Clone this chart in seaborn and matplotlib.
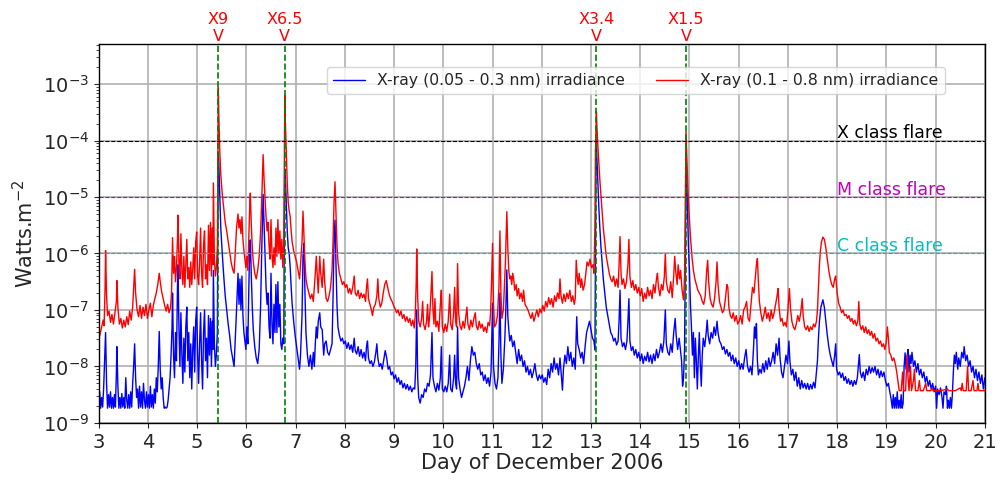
import numpy as np
import pandas as pd
import matplotlib
matplotlib.use("Agg")
import matplotlib.pyplot as plt
import matplotlib.transforms as mtransforms
import seaborn as sns

# ---- data: (day of December 2006, log10 irradiance W m^-2) ----
red_pts = [
(3.00,-7.52),(3.03,-7.42),(3.06,-7.30),(3.09,-7.18),(3.11,-7.28),(3.13,-6.60),(3.14,-5.95),(3.16,-6.75),(3.18,-7.10),(3.21,-7.02),
(3.24,-7.22),(3.27,-7.08),(3.30,-7.25),(3.33,-7.05),(3.36,-6.85),(3.37,-6.48),(3.39,-6.95),(3.42,-7.25),(3.45,-7.15),(3.48,-7.32),
(3.51,-7.18),(3.54,-7.30),(3.57,-7.12),(3.60,-7.26),(3.63,-7.02),(3.66,-7.18),(3.69,-6.95),(3.72,-6.45),(3.73,-6.28),(3.75,-6.70),
(3.78,-7.00),(3.81,-7.12),(3.84,-6.92),(3.87,-7.15),(3.90,-6.95),(3.93,-7.10),(3.96,-6.90),(3.99,-7.15),(4.02,-7.00),(4.05,-6.88),
(4.08,-7.12),(4.11,-6.92),(4.14,-6.80),(4.17,-6.70),(4.20,-6.55),(4.23,-6.35),(4.25,-6.50),(4.28,-6.68),(4.31,-6.80),(4.34,-6.92),
(4.37,-7.02),(4.40,-6.90),(4.43,-7.05),(4.46,-6.95),(4.48,-6.70),(4.50,-5.72),(4.52,-6.35),(4.54,-6.05),(4.56,-6.50),(4.58,-6.25),
(4.60,-5.75),(4.61,-5.32),(4.63,-6.15),(4.65,-6.45),(4.67,-5.65),(4.69,-6.30),(4.71,-6.55),(4.73,-6.05),(4.75,-6.60),(4.77,-6.20),
(4.79,-5.75),(4.81,-6.45),(4.83,-6.25),(4.85,-6.60),(4.87,-6.15),(4.89,-6.55),(4.91,-6.30),(4.93,-5.90),(4.95,-6.45),(4.97,-5.80),
(4.99,-5.62),(5.01,-6.40),(5.03,-6.55),(5.05,-6.15),(5.07,-5.55),(5.09,-6.35),(5.11,-6.60),(5.13,-5.85),(5.15,-5.60),(5.17,-6.45),
(5.19,-6.20),(5.21,-6.55),(5.23,-5.50),(5.25,-6.30),(5.27,-5.45),(5.29,-6.40),(5.31,-5.55),(5.32,-6.20),(5.33,-4.75),(5.35,-6.10),
(5.37,-6.40),(5.39,-6.25),(5.41,-5.90),(5.42,-4.50),(5.43,-3.06),(5.44,-3.55),(5.46,-4.20),(5.48,-4.60),(5.51,-4.95),(5.54,-5.20),
(5.57,-5.45),(5.60,-5.60),(5.63,-5.78),(5.66,-5.95),(5.69,-6.15),(5.72,-6.28),(5.75,-6.35),(5.77,-6.05),(5.80,-5.55),(5.83,-5.30),
(5.85,-5.55),(5.87,-5.40),(5.89,-5.65),(5.91,-5.35),(5.93,-5.75),(5.95,-5.95),(5.97,-6.10),(5.99,-6.25),(6.01,-6.05),(6.03,-6.30),
(6.05,-5.70),(6.07,-5.10),(6.08,-4.93),(6.10,-5.50),(6.12,-5.90),(6.14,-6.15),(6.17,-6.35),(6.20,-6.45),(6.23,-6.30),(6.26,-6.05),
(6.29,-5.60),(6.31,-5.10),(6.34,-4.25),(6.36,-4.70),(6.38,-5.05),(6.40,-5.35),(6.42,-5.60),(6.44,-5.45),(6.46,-5.85),(6.48,-6.10),
(6.50,-5.40),(6.52,-6.00),(6.54,-6.25),(6.56,-5.90),(6.58,-6.20),(6.60,-5.55),(6.62,-6.05),(6.64,-5.40),(6.66,-6.00),(6.68,-5.60),
(6.70,-6.10),(6.72,-5.75),(6.74,-6.25),(6.76,-5.80),(6.77,-4.50),(6.78,-3.20),(6.79,-3.60),(6.81,-4.20),(6.83,-4.75),(6.85,-5.10),
(6.87,-5.25),(6.89,-5.35),(6.91,-5.60),(6.93,-5.80),(6.96,-5.95),(6.99,-6.05),(7.02,-6.15),(7.05,-6.30),(7.08,-6.45),(7.10,-6.20),
(7.13,-5.80),(7.15,-5.25),(7.17,-5.70),(7.19,-6.15),(7.21,-6.45),(7.24,-6.60),(7.27,-6.70),(7.30,-6.80),(7.33,-6.72),(7.36,-6.85),
(7.38,-6.60),(7.40,-6.35),(7.42,-6.05),(7.44,-6.40),(7.46,-6.70),(7.49,-6.05),(7.51,-6.35),(7.54,-6.60),(7.57,-6.10),(7.59,-6.50),
(7.62,-6.80),(7.65,-6.85),(7.68,-6.75),(7.71,-6.60),(7.74,-6.30),(7.76,-5.80),(7.78,-5.10),(7.80,-4.73),(7.82,-5.30),(7.84,-5.85),
(7.86,-6.15),(7.89,-6.35),(7.92,-6.45),(7.95,-6.55),(7.98,-6.50),(8.01,-6.60),(8.04,-6.55),(8.07,-6.70),(8.10,-6.62),(8.13,-6.72),
(8.16,-6.60),(8.19,-6.40),(8.21,-6.70),(8.24,-6.75),(8.27,-6.65),(8.30,-6.80),(8.33,-6.70),(8.36,-6.78),(8.39,-6.72),(8.42,-6.85),
(8.44,-6.60),(8.46,-6.45),(8.48,-6.80),(8.51,-6.90),(8.54,-7.00),(8.56,-7.10),(8.59,-6.95),(8.62,-6.90),(8.65,-6.75),(8.67,-6.45),
(8.69,-6.80),(8.72,-6.95),(8.75,-6.88),(8.78,-6.70),(8.81,-6.55),(8.84,-6.48),(8.87,-6.60),(8.90,-6.72),(8.93,-6.80),(8.96,-6.85),
(8.99,-6.92),(9.02,-6.98),(9.05,-7.05),(9.08,-7.00),(9.11,-7.10),(9.14,-7.02),(9.17,-7.15),(9.20,-7.08),(9.23,-7.20),(9.26,-7.12),
(9.29,-7.22),(9.32,-7.15),(9.35,-7.28),(9.38,-7.18),(9.41,-7.32),(9.43,-7.10),(9.45,-6.50),(9.46,-5.92),(9.48,-6.80),(9.50,-7.20),
(9.53,-7.30),(9.56,-7.15),(9.58,-6.85),(9.60,-7.25),(9.63,-7.35),(9.66,-7.20),(9.68,-6.90),(9.70,-7.30),(9.72,-7.15),(9.75,-6.70),
(9.77,-6.32),(9.79,-7.00),(9.81,-7.25),(9.83,-6.80),(9.85,-7.30),(9.88,-7.20),(9.91,-7.38),(9.94,-6.90),(9.96,-6.65),(9.98,-7.30),
(10.01,-7.40),(10.04,-7.25),(10.07,-7.38),(10.10,-7.20),(10.13,-6.72),(10.15,-7.25),(10.18,-7.35),(10.21,-7.05),(10.23,-6.60),(10.25,-7.20),
(10.27,-7.30),(10.29,-6.18),(10.31,-7.05),(10.34,-7.28),(10.37,-7.35),(10.40,-7.20),(10.43,-7.32),(10.46,-7.10),(10.48,-6.95),(10.50,-7.25),
(10.53,-7.35),(10.56,-7.18),(10.59,-7.30),(10.62,-7.15),(10.65,-7.05),(10.67,-7.28),(10.70,-7.35),(10.73,-7.20),(10.76,-7.32),(10.79,-7.25),
(10.82,-7.38),(10.85,-7.30),(10.88,-7.40),(10.91,-7.22),(10.94,-7.28),(10.96,-7.05),(10.98,-6.50),(11.00,-5.82),(11.02,-6.90),(11.04,-7.30),
(11.07,-7.25),(11.10,-7.10),(11.13,-6.60),(11.15,-5.60),(11.17,-6.70),(11.19,-7.15),(11.22,-7.00),(11.24,-6.60),(11.26,-6.20),(11.28,-5.60),
(11.29,-5.26),(11.31,-5.90),(11.33,-6.30),(11.35,-6.45),(11.37,-6.40),(11.39,-6.55),(11.41,-6.35),(11.43,-6.45),(11.45,-6.65),(11.48,-6.55),
(11.50,-6.75),(11.53,-6.62),(11.55,-6.80),(11.58,-6.70),(11.61,-6.85),(11.63,-6.65),(11.66,-6.90),(11.69,-6.95),(11.72,-7.00),(11.75,-7.08),
(11.78,-7.15),(11.81,-7.05),(11.84,-7.20),(11.87,-7.10),(11.90,-7.00),(11.93,-7.12),(11.96,-6.98),(11.99,-7.05),(12.02,-6.92),(12.05,-7.02),
(12.08,-6.85),(12.11,-6.95),(12.14,-6.78),(12.17,-6.90),(12.20,-6.80),(12.23,-6.95),(12.26,-6.75),(12.29,-6.85),(12.32,-6.70),(12.35,-6.80),
(12.37,-6.45),(12.39,-6.75),(12.42,-6.88),(12.45,-6.72),(12.48,-6.85),(12.51,-6.70),(12.54,-6.80),(12.57,-6.65),(12.60,-6.85),(12.63,-6.75),
(12.66,-6.90),(12.68,-6.80),(12.70,-6.12),(12.72,-6.40),(12.74,-6.55),(12.76,-6.35),(12.79,-6.60),(12.81,-6.45),(12.84,-6.65),(12.87,-6.55),
(12.90,-6.30),(12.92,-6.15),(12.95,-6.22),(12.98,-6.10),(13.01,-6.25),(13.04,-6.20),(13.06,-6.35),(13.08,-5.50),(13.09,-4.20),(13.11,-3.49),
(13.12,-3.75),(13.14,-4.10),(13.16,-4.40),(13.18,-4.70),(13.20,-4.95),(13.22,-5.20),(13.25,-5.55),(13.28,-5.80),(13.31,-6.05),(13.34,-6.20),
(13.37,-6.35),(13.40,-6.45),(13.43,-6.50),(13.46,-6.40),(13.49,-6.58),(13.52,-6.45),(13.55,-6.60),(13.57,-6.20),(13.59,-5.70),(13.61,-6.35),
(13.63,-6.55),(13.66,-6.45),(13.69,-6.62),(13.72,-6.50),(13.75,-6.20),(13.77,-5.75),(13.79,-6.40),(13.82,-6.60),(13.85,-6.48),(13.88,-6.65),
(13.91,-6.55),(13.94,-6.70),(13.97,-6.60),(14.00,-6.75),(14.03,-6.62),(14.06,-6.85),(14.09,-6.70),(14.12,-6.80),(14.15,-6.60),(14.18,-6.75),
(14.21,-6.65),(14.24,-6.80),(14.27,-6.55),(14.30,-6.70),(14.33,-6.45),(14.35,-6.35),(14.37,-6.60),(14.40,-6.75),(14.43,-6.55),(14.46,-6.65),
(14.49,-6.40),(14.51,-6.00),(14.53,-6.50),(14.56,-6.65),(14.59,-6.70),(14.62,-6.50),(14.65,-6.78),(14.68,-6.40),(14.70,-6.05),(14.72,-6.30),
(14.75,-6.55),(14.77,-6.20),(14.80,-6.45),(14.82,-6.30),(14.85,-6.65),(14.88,-6.82),(14.90,-6.40),(14.92,-4.80),(14.93,-3.84),(14.95,-4.40),
(14.97,-4.90),(14.99,-5.25),(15.02,-5.70),(15.05,-6.05),(15.08,-6.30),(15.11,-6.45),(15.14,-6.55),(15.17,-6.65),(15.20,-6.70),(15.23,-6.75),
(15.26,-6.85),(15.29,-6.90),(15.32,-6.75),(15.35,-6.30),(15.37,-6.12),(15.39,-6.50),(15.42,-6.80),(15.45,-6.90),(15.48,-6.95),(15.51,-6.80),
(15.54,-6.50),(15.56,-6.15),(15.58,-6.55),(15.61,-6.85),(15.64,-6.95),(15.67,-7.05),(15.70,-7.00),(15.73,-6.80),(15.76,-6.55),(15.78,-6.60),
(15.80,-6.95),(15.83,-7.10),(15.86,-7.15),(15.89,-7.05),(15.92,-7.20),(15.95,-7.10),(15.98,-7.25),(16.01,-7.20),(16.04,-7.10),(16.07,-7.25),
(16.10,-7.00),(16.13,-6.95),(16.16,-6.85),(16.19,-7.15),(16.22,-7.20),(16.25,-6.90),(16.28,-6.60),(16.31,-6.70),(16.34,-6.40),(16.36,-6.20),
(16.38,-6.09),(16.40,-6.50),(16.42,-6.85),(16.45,-7.05),(16.48,-7.20),(16.51,-7.10),(16.54,-6.95),(16.57,-7.15),(16.60,-7.05),(16.63,-7.20),
(16.66,-7.00),(16.69,-7.15),(16.72,-7.05),(16.75,-6.90),(16.78,-6.75),(16.80,-6.62),(16.82,-6.95),(16.85,-7.20),(16.88,-7.15),(16.91,-7.28),
(16.94,-7.22),(16.97,-7.30),(17.00,-7.00),(17.03,-6.62),(17.05,-6.95),(17.08,-7.20),(17.11,-7.30),(17.14,-7.35),(17.17,-7.25),(17.20,-7.10),
(17.23,-7.20),(17.26,-7.05),(17.29,-6.80),(17.31,-7.10),(17.34,-7.30),(17.37,-7.35),(17.40,-7.28),(17.43,-7.38),(17.46,-7.30),(17.49,-7.35),
(17.52,-7.25),(17.55,-7.30),(17.58,-7.20),(17.60,-7.00),(17.62,-6.60),(17.64,-6.20),(17.66,-5.95),(17.68,-5.80),(17.71,-5.71),(17.74,-5.75),
(17.77,-5.90),(17.80,-6.10),(17.83,-6.30),(17.86,-6.45),(17.89,-6.55),(17.92,-6.60),(17.95,-6.45),(17.97,-6.40),(18.00,-6.70),(18.03,-6.88),
(18.06,-6.95),(18.09,-7.05),(18.12,-7.00),(18.15,-7.10),(18.18,-7.08),(18.21,-7.15),(18.24,-7.10),(18.27,-7.20),(18.30,-7.15),(18.33,-7.25),
(18.36,-7.18),(18.39,-7.28),(18.42,-7.20),(18.44,-6.85),(18.46,-7.25),(18.49,-7.35),(18.52,-7.28),(18.55,-7.40),(18.58,-7.30),(18.61,-7.42),
(18.64,-7.35),(18.67,-7.45),(18.70,-7.38),(18.73,-7.50),(18.76,-7.42),(18.79,-7.55),(18.82,-7.50),(18.85,-7.60),(18.88,-7.55),(18.91,-7.65),
(18.94,-7.60),(18.97,-7.70),(19.00,-7.55),(19.02,-7.30),(19.04,-7.50),(19.06,-7.75),(19.09,-7.80),(19.12,-7.90),(19.15,-7.85),(19.18,-7.95),
(19.21,-8.10),(19.24,-8.30),(19.26,-8.43),(19.30,-8.43),(19.33,-8.10),(19.35,-8.43),(19.39,-8.43),(19.42,-7.80),(19.44,-8.20),(19.46,-8.43),
(19.49,-8.00),(19.51,-8.43),(19.55,-8.25),(19.57,-8.05),(19.59,-8.43),(19.64,-8.43),(19.67,-8.25),(19.69,-8.43),(19.75,-8.43),(19.80,-8.30),
(19.82,-8.43),(19.90,-8.43),(19.93,-8.38),(19.95,-8.43),(20.10,-8.43),(20.24,-8.40),(20.26,-8.43),(20.40,-8.43),(20.50,-8.38),(20.52,-8.43),
(20.54,-8.30),(20.56,-8.43),(20.62,-8.43),(20.65,-8.00),(20.67,-8.43),(20.72,-8.43),(20.76,-8.25),(20.78,-8.43),(20.84,-8.43),(20.86,-8.30),
(20.88,-8.43),(21.00,-8.43),
]

blue_pts = [
(3.00,-8.70),(3.02,-8.45),(3.04,-8.74),(3.06,-8.55),(3.08,-8.72),(3.10,-8.40),(3.12,-7.90),(3.14,-7.40),(3.16,-8.30),(3.18,-8.74),
(3.20,-8.50),(3.22,-8.72),(3.24,-8.45),(3.26,-8.74),(3.28,-8.55),(3.30,-8.74),(3.32,-8.50),(3.34,-8.72),(3.36,-8.10),(3.37,-7.65),
(3.39,-8.35),(3.41,-8.74),(3.43,-8.55),(3.45,-8.74),(3.47,-8.48),(3.49,-8.72),(3.51,-8.55),(3.53,-8.74),(3.55,-8.20),(3.57,-8.60),
(3.59,-8.74),(3.61,-8.50),(3.63,-8.74),(3.65,-8.45),(3.67,-8.72),(3.69,-8.30),(3.71,-8.00),(3.73,-7.60),(3.75,-8.20),(3.77,-8.55),
(3.79,-8.40),(3.81,-8.74),(3.83,-8.35),(3.85,-8.72),(3.87,-8.45),(3.89,-8.74),(3.91,-8.30),(3.93,-8.60),(3.95,-8.74),(3.97,-8.45),
(3.99,-8.72),(4.01,-8.50),(4.03,-8.74),(4.05,-8.35),(4.07,-8.72),(4.09,-8.50),(4.11,-8.74),(4.13,-8.40),(4.15,-8.65),(4.17,-8.20),
(4.19,-8.45),(4.21,-8.00),(4.23,-7.38),(4.25,-8.05),(4.27,-8.40),(4.29,-8.20),(4.31,-8.55),(4.33,-8.74),(4.35,-8.72),(4.37,-8.74),
(4.39,-8.72),(4.41,-8.60),(4.43,-8.40),(4.45,-8.20),(4.47,-7.80),(4.49,-7.30),(4.50,-6.70),(4.52,-7.80),(4.54,-8.20),(4.56,-7.40),
(4.58,-7.90),(4.60,-6.60),(4.61,-6.20),(4.63,-7.30),(4.65,-8.00),(4.67,-7.05),(4.69,-7.80),(4.71,-8.30),(4.73,-7.50),(4.75,-8.10),
(4.77,-7.30),(4.79,-6.95),(4.81,-7.90),(4.83,-7.40),(4.85,-8.20),(4.87,-7.60),(4.89,-8.40),(4.91,-7.70),(4.93,-7.30),(4.95,-8.10),
(4.97,-7.20),(4.99,-6.95),(5.01,-7.80),(5.03,-8.30),(5.05,-7.60),(5.07,-7.05),(5.09,-7.90),(5.11,-8.40),(5.13,-7.40),(5.15,-7.00),
(5.17,-7.90),(5.19,-7.50),(5.21,-8.20),(5.23,-7.10),(5.25,-7.80),(5.27,-7.15),(5.29,-8.00),(5.31,-7.20),(5.32,-7.70),(5.33,-6.30),
(5.35,-7.60),(5.37,-8.00),(5.39,-7.80),(5.41,-7.40),(5.42,-5.50),(5.43,-4.20),(5.44,-4.40),(5.46,-5.00),(5.48,-5.55),(5.51,-6.00),
(5.54,-6.40),(5.57,-6.75),(5.60,-7.00),(5.63,-7.25),(5.66,-7.45),(5.69,-7.70),(5.72,-7.85),(5.75,-8.00),(5.77,-7.60),(5.80,-7.00),
(5.83,-6.35),(5.85,-6.90),(5.87,-6.45),(5.89,-7.00),(5.91,-6.40),(5.93,-7.10),(5.95,-7.40),(5.97,-7.55),(5.99,-7.70),(6.01,-7.30),
(6.03,-7.60),(6.05,-6.60),(6.07,-5.80),(6.08,-5.76),(6.10,-6.40),(6.12,-6.95),(6.14,-7.35),(6.17,-7.65),(6.20,-7.85),(6.23,-7.95),
(6.26,-7.70),(6.29,-6.90),(6.31,-6.00),(6.34,-4.95),(6.36,-5.50),(6.38,-6.10),(6.40,-6.60),(6.42,-6.90),(6.44,-6.70),(6.46,-7.30),
(6.48,-7.50),(6.50,-6.35),(6.52,-7.25),(6.54,-7.60),(6.56,-6.90),(6.58,-7.40),(6.60,-6.55),(6.62,-7.40),(6.64,-6.50),(6.66,-7.30),
(6.68,-6.90),(6.70,-7.60),(6.72,-7.70),(6.74,-7.50),(6.76,-7.60),(6.77,-5.50),(6.78,-4.50),(6.79,-4.60),(6.81,-5.10),(6.83,-5.60),
(6.85,-5.90),(6.87,-6.00),(6.89,-6.25),(6.91,-6.60),(6.93,-6.90),(6.96,-7.20),(6.99,-7.45),(7.02,-7.65),(7.05,-7.85),(7.08,-8.05),
(7.10,-7.80),(7.13,-7.10),(7.15,-6.05),(7.17,-5.82),(7.19,-6.70),(7.21,-7.40),(7.24,-7.80),(7.27,-8.00),(7.30,-7.80),(7.33,-8.05),
(7.36,-7.75),(7.38,-8.00),(7.40,-7.60),(7.42,-7.30),(7.44,-7.50),(7.46,-7.20),(7.49,-7.05),(7.51,-7.30),(7.54,-7.35),(7.57,-7.80),
(7.59,-7.60),(7.62,-7.55),(7.65,-7.75),(7.68,-7.80),(7.71,-7.70),(7.74,-7.60),(7.76,-6.80),(7.78,-5.80),(7.80,-5.41),(7.82,-6.20),
(7.84,-6.90),(7.86,-7.30),(7.89,-7.45),(7.92,-7.55),(7.95,-7.50),(7.98,-7.60),(8.01,-7.55),(8.04,-7.68),(8.07,-7.58),(8.10,-7.70),
(8.13,-7.62),(8.16,-7.75),(8.19,-7.50),(8.21,-7.72),(8.24,-7.78),(8.27,-7.65),(8.30,-7.82),(8.33,-7.70),(8.36,-7.85),(8.39,-7.75),
(8.42,-7.90),(8.44,-7.65),(8.46,-7.55),(8.48,-7.85),(8.51,-7.95),(8.54,-7.90),(8.57,-8.00),(8.60,-7.92),(8.63,-7.75),(8.65,-7.60),
(8.67,-7.85),(8.70,-8.00),(8.73,-7.95),(8.76,-8.05),(8.79,-7.88),(8.82,-7.72),(8.85,-7.85),(8.88,-8.05),(8.91,-8.00),(8.94,-8.15),
(8.97,-8.10),(9.00,-8.22),(9.03,-8.15),(9.06,-8.28),(9.09,-8.20),(9.12,-8.32),(9.15,-8.25),(9.18,-8.38),(9.21,-8.30),(9.24,-8.40),
(9.27,-8.32),(9.30,-8.42),(9.33,-8.35),(9.36,-8.45),(9.39,-8.38),(9.42,-8.40),(9.44,-8.00),(9.46,-7.00),(9.48,-8.20),(9.50,-8.55),
(9.53,-8.65),(9.56,-8.50),(9.59,-8.55),(9.62,-8.40),(9.65,-8.45),(9.68,-8.30),(9.71,-8.35),(9.74,-8.15),(9.77,-7.40),(9.79,-8.20),
(9.82,-8.35),(9.85,-8.45),(9.88,-8.30),(9.91,-8.42),(9.94,-8.20),(9.96,-7.65),(9.98,-8.40),(10.01,-8.45),(10.04,-8.35),(10.07,-8.45),
(10.10,-8.30),(10.13,-7.80),(10.15,-8.40),(10.18,-8.45),(10.21,-8.20),(10.23,-7.80),(10.25,-8.30),(10.27,-8.40),(10.29,-7.30),(10.31,-8.20),
(10.34,-8.40),(10.37,-8.55),(10.40,-8.45),(10.43,-8.35),(10.46,-8.20),(10.49,-8.00),(10.52,-8.25),(10.55,-7.90),(10.58,-7.65),(10.61,-7.80),
(10.64,-7.75),(10.67,-7.95),(10.70,-8.05),(10.73,-7.95),(10.76,-8.15),(10.79,-8.10),(10.82,-8.25),(10.85,-8.15),(10.88,-8.30),(10.91,-8.20),
(10.94,-8.35),(10.97,-8.10),(11.00,-6.88),(11.02,-8.00),(11.05,-8.30),(11.08,-8.40),(11.11,-8.20),(11.13,-7.60),(11.15,-6.70),(11.17,-7.80),
(11.19,-8.30),(11.22,-8.05),(11.25,-7.50),(11.27,-7.00),(11.29,-6.29),(11.31,-7.10),(11.33,-7.35),(11.35,-7.55),(11.38,-7.45),(11.41,-7.65),
(11.44,-7.55),(11.47,-7.75),(11.50,-7.95),(11.53,-7.70),(11.56,-7.90),(11.59,-7.80),(11.62,-8.00),(11.65,-7.90),(11.68,-8.10),(11.71,-8.00),
(11.74,-8.15),(11.77,-8.05),(11.80,-8.20),(11.83,-8.10),(11.86,-7.95),(11.89,-8.15),(11.92,-8.25),(11.95,-8.15),(11.98,-8.22),(12.01,-8.15),
(12.04,-8.28),(12.07,-8.20),(12.10,-8.32),(12.13,-8.05),(12.16,-8.20),(12.19,-7.95),(12.22,-8.10),(12.25,-7.85),(12.28,-8.05),(12.31,-7.95),
(12.34,-8.15),(12.37,-7.85),(12.40,-8.20),(12.42,-8.42),(12.44,-8.05),(12.47,-7.80),(12.50,-7.95),(12.53,-7.65),(12.56,-7.90),(12.59,-7.75),
(12.62,-8.00),(12.65,-7.85),(12.68,-8.05),(12.70,-7.40),(12.71,-7.12),(12.73,-7.60),(12.76,-7.70),(12.79,-7.85),(12.82,-7.75),(12.85,-7.95),
(12.88,-7.65),(12.91,-7.40),(12.94,-7.30),(12.97,-7.20),(13.00,-7.35),(13.03,-7.50),(13.06,-7.55),(13.08,-7.71),(13.09,-6.00),(13.10,-4.50),
(13.11,-4.00),(13.12,-4.30),(13.14,-4.75),(13.16,-5.20),(13.18,-5.55),(13.20,-5.85),(13.22,-6.10),(13.25,-6.45),(13.28,-6.70),(13.31,-6.95),
(13.34,-7.10),(13.37,-7.25),(13.40,-7.40),(13.43,-7.45),(13.46,-7.55),(13.49,-7.50),(13.52,-7.62),(13.55,-7.55),(13.57,-7.20),(13.59,-6.65),
(13.61,-7.50),(13.64,-7.65),(13.67,-7.58),(13.70,-7.70),(13.73,-7.55),(13.75,-7.20),(13.77,-6.80),(13.79,-7.55),(13.82,-7.72),(13.85,-7.65),
(13.88,-7.80),(13.91,-7.70),(13.94,-7.85),(13.97,-7.75),(14.00,-7.90),(14.03,-7.78),(14.06,-7.95),(14.09,-7.82),(14.12,-7.90),(14.15,-7.75),
(14.18,-7.92),(14.21,-7.80),(14.24,-7.95),(14.27,-7.78),(14.30,-7.90),(14.33,-7.70),(14.36,-7.85),(14.39,-7.75),(14.42,-7.60),(14.45,-7.75),
(14.48,-7.55),(14.51,-7.00),(14.53,-7.60),(14.56,-7.75),(14.59,-7.80),(14.62,-7.60),(14.65,-7.75),(14.68,-7.40),(14.71,-7.15),(14.73,-7.45),
(14.76,-7.70),(14.79,-7.50),(14.81,-7.65),(14.84,-7.90),(14.86,-8.35),(14.88,-8.20),(14.90,-7.70),(14.92,-5.80),(14.93,-4.20),(14.94,-4.50),
(14.96,-5.20),(14.98,-5.90),(15.00,-6.30),(15.02,-6.90),(15.04,-7.30),(15.06,-7.80),(15.08,-7.40),(15.10,-8.20),(15.12,-7.50),(15.14,-7.90),
(15.16,-8.40),(15.18,-7.85),(15.20,-7.40),(15.22,-7.95),(15.24,-8.35),(15.26,-7.80),(15.28,-7.50),(15.31,-7.65),(15.34,-7.40),(15.36,-7.18),
(15.38,-7.45),(15.41,-7.60),(15.44,-7.40),(15.47,-7.50),(15.50,-7.30),(15.53,-7.45),(15.56,-7.20),(15.58,-7.40),(15.61,-7.55),(15.64,-7.60),
(15.67,-7.70),(15.70,-7.65),(15.73,-7.78),(15.76,-7.70),(15.79,-7.82),(15.82,-7.75),(15.85,-7.90),(15.88,-7.80),(15.91,-7.95),(15.94,-7.85),
(15.97,-8.00),(16.00,-7.90),(16.03,-8.05),(16.06,-7.95),(16.09,-8.05),(16.12,-7.85),(16.15,-7.70),(16.18,-8.00),(16.21,-8.10),(16.24,-8.00),
(16.27,-8.15),(16.30,-7.70),(16.32,-7.30),(16.34,-7.50),(16.36,-7.24),(16.38,-7.90),(16.40,-8.15),(16.43,-8.05),(16.46,-8.12),(16.49,-7.95),
(16.52,-8.10),(16.55,-7.90),(16.58,-8.05),(16.61,-7.85),(16.64,-8.00),(16.67,-7.90),(16.70,-7.75),(16.73,-7.95),(16.76,-7.60),(16.79,-7.80),
(16.82,-7.50),(16.84,-7.85),(16.87,-8.10),(16.90,-8.20),(16.93,-8.00),(16.96,-7.80),(16.99,-7.95),(17.02,-7.55),(17.04,-7.90),(17.07,-8.15),
(17.10,-8.05),(17.13,-8.25),(17.16,-8.10),(17.19,-8.35),(17.22,-8.20),(17.25,-8.40),(17.28,-8.25),(17.31,-8.38),(17.34,-8.30),(17.37,-8.40),
(17.40,-8.30),(17.43,-8.41),(17.46,-8.32),(17.49,-8.40),(17.52,-8.28),(17.55,-8.38),(17.58,-8.10),(17.60,-7.90),(17.62,-7.50),(17.64,-7.20),
(17.67,-6.95),(17.71,-6.82),(17.74,-6.95),(17.77,-7.20),(17.80,-7.45),(17.83,-7.65),(17.86,-7.80),(17.89,-7.90),(17.92,-8.00),(17.95,-7.80),
(17.97,-7.60),(17.99,-8.05),(18.02,-8.15),(18.05,-8.10),(18.08,-8.20),(18.11,-8.12),(18.14,-8.25),(18.17,-8.18),(18.20,-8.30),(18.23,-8.22),
(18.26,-8.32),(18.29,-8.25),(18.32,-8.35),(18.35,-8.25),(18.38,-8.32),(18.41,-8.20),(18.43,-8.00),(18.45,-7.79),(18.47,-8.10),(18.50,-8.20),
(18.53,-8.10),(18.56,-8.25),(18.59,-8.05),(18.62,-8.15),(18.65,-8.00),(18.68,-8.12),(18.71,-8.02),(18.74,-8.10),(18.77,-8.00),(18.80,-8.15),
(18.83,-8.05),(18.86,-8.20),(18.89,-8.08),(18.92,-8.18),(18.95,-8.10),(18.98,-8.25),(19.01,-8.35),(19.04,-8.30),(19.07,-8.45),(19.10,-8.60),
(19.12,-8.74),(19.14,-8.50),(19.16,-8.74),(19.18,-8.55),(19.20,-8.74),(19.22,-8.45),(19.24,-8.74),(19.26,-8.60),(19.28,-8.74),(19.30,-8.50),
(19.32,-8.74),(19.34,-8.65),(19.36,-8.00),(19.38,-7.76),(19.40,-8.05),(19.42,-7.85),(19.44,-7.70),(19.46,-8.10),(19.48,-7.80),(19.50,-7.95),
(19.52,-7.75),(19.55,-8.00),(19.58,-7.90),(19.61,-8.10),(19.64,-7.95),(19.67,-8.15),(19.70,-8.05),(19.73,-8.20),(19.76,-8.10),(19.79,-8.28),
(19.82,-8.18),(19.85,-8.35),(19.88,-8.25),(19.91,-8.40),(19.94,-8.30),(19.97,-8.45),(20.00,-8.35),(20.02,-8.74),(20.04,-8.40),(20.07,-8.50),
(20.10,-8.38),(20.13,-8.55),(20.15,-8.74),(20.17,-8.45),(20.20,-8.50),(20.22,-8.35),(20.24,-8.74),(20.26,-8.60),(20.28,-8.74),(20.30,-8.55),
(20.32,-8.74),(20.34,-8.50),(20.36,-8.10),(20.38,-7.80),(20.40,-7.95),(20.42,-7.75),(20.45,-8.05),(20.47,-7.85),(20.50,-8.00),(20.53,-7.75),
(20.56,-7.85),(20.58,-7.65),(20.61,-7.90),(20.64,-7.80),(20.67,-8.00),(20.70,-7.90),(20.73,-8.10),(20.76,-8.00),(20.79,-8.20),(20.82,-8.05),
(20.85,-8.25),(20.88,-8.10),(20.91,-8.30),(20.94,-8.15),(20.97,-8.40),(21.00,-8.20),
]

flare_days = [5.43, 6.78, 13.11, 14.93]
flare_labels = ["X9", "X6.5", "X3.4", "X1.5"]

class_levels = [1e-4, 1e-5, 1e-6]
class_labels = ["X class flare", "M class flare", "C class flare"]
class_colors = ["k", "m", "c"]

x_ticks = list(range(3, 22))

# ---- build frames ----
red = pd.DataFrame(red_pts, columns=["day", "logflux"])
red["flux"] = 10.0 ** red["logflux"]
blue = pd.DataFrame(blue_pts, columns=["day", "logflux"])
blue["flux"] = 10.0 ** blue["logflux"]

sns.set_style("ticks")
plt.rcParams["font.family"] = ["DejaVu Sans"]

fig, ax = plt.subplots(figsize=(10.07, 4.80), dpi=100)
fig.subplots_adjust(left=0.098, right=0.978, top=0.908, bottom=0.119)

ax.set_yscale("log")
sns.lineplot(data=blue, x="day", y="flux", ax=ax, color="b", lw=1.0,
             estimator=None, sort=False, label="X-ray (0.05 - 0.3 nm) irradiance")
sns.lineplot(data=red, x="day", y="flux", ax=ax, color="r", lw=1.0,
             estimator=None, sort=False, label="X-ray (0.1 - 0.8 nm) irradiance")

for lev, lab, col in zip(class_levels, class_labels, class_colors):
    ax.axhline(lev, color=col, ls="--", lw=0.8)
    ax.text(18.0, lev * 1.1, lab, color=col, fontsize=12.5, va="baseline", ha="left")

trans = mtransforms.blended_transform_factory(ax.transData, ax.transAxes)
for d, lab in zip(flare_days, flare_labels):
    ax.axvline(d, color="g", ls="--", lw=1.2)
    ax.text(d, 1.0, lab + "\nV", transform=trans, ha="center", va="bottom",
            color="r", fontsize=11.5, linespacing=1.15)

ax.set_xlim(3, 21)
ax.set_ylim(1e-9, 5.1e-3)
ax.set_xticks(x_ticks)
ax.grid(True, which="major", color="#b0b0b0", lw=1.2)
ax.tick_params(axis="both", which="major", labelsize=14)
ax.set_xlabel("Day of December 2006", fontsize=15, labelpad=1)
ax.set_ylabel(r"Watts.m$^{-2}$", fontsize=15)
for s in ax.spines.values():
    s.set_color("black")
    s.set_linewidth(1.0)

leg = ax.legend(loc="upper right", bbox_to_anchor=(0.955, 0.94), ncol=2,
                fontsize=11.3, borderaxespad=0, frameon=True)

fig.savefig("out.png", dpi=100)
